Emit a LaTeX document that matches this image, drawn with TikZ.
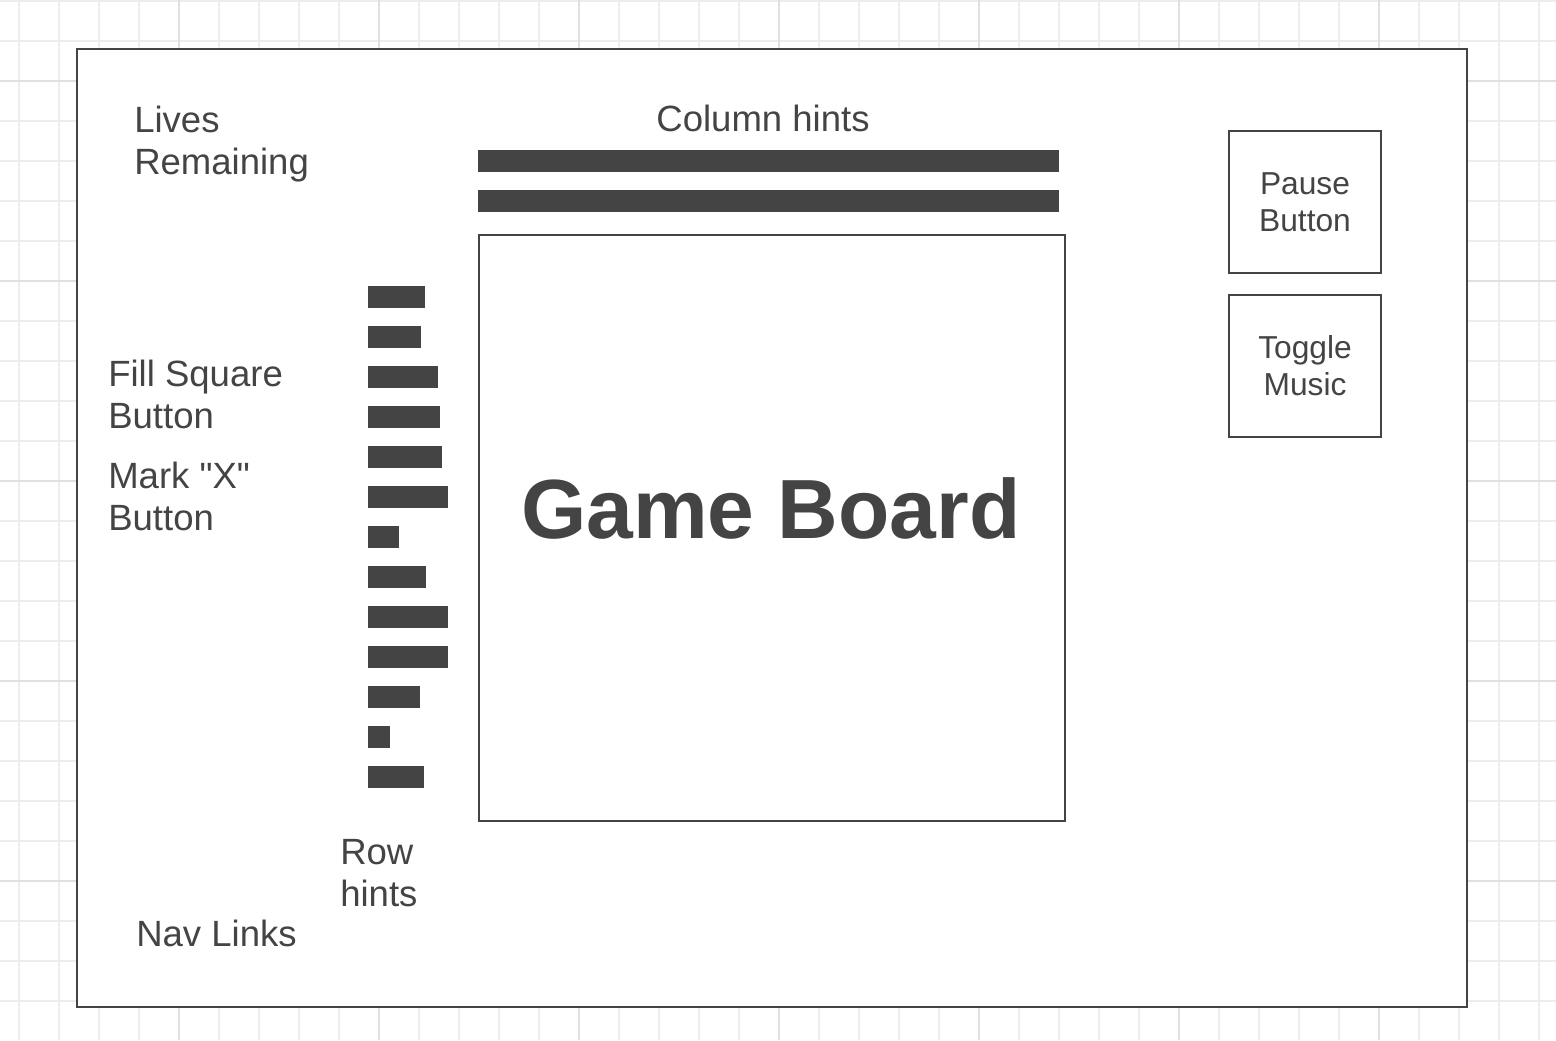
\documentclass[tikz,border=0pt]{standalone}
\usepackage{fontspec}
\setmainfont{Liberation Sans}[Ligatures=TeXOff]
\definecolor{ink}{HTML}{444444}
\definecolor{gridminor}{HTML}{EDEDED}
\definecolor{gridmajor}{HTML}{E0E0E0}
\newcommand{\twoL}[2]{\vtop{\hbox{#1}\hbox{#2}}}
\newcommand{\twoC}[2]{\vtop{\halign{\hfil##\hfil\cr#1\cr#2\cr}}}
\begin{document}
\begin{tikzpicture}[x=0.75pt,y=-0.75pt,
  lbl/.style={text=ink, inner sep=0pt, font=\fontsize{27.4}{31.5}\selectfont, anchor=base west},
  btnlbl/.style={text=ink, inner sep=0pt, font=\fontsize{23.8}{28}\selectfont, anchor=base},
  boxshape/.style={draw=ink, line width=1.5pt, fill=white, inner sep=0pt, outer sep=0pt, anchor=north west},
  hintbar/.style={fill=ink, draw=none, inner sep=0pt, outer sep=0pt, anchor=north west},
  minorline/.style={draw=gridminor, line width=1.1pt},
  majorline/.style={draw=gridmajor, line width=1.1pt}]
\useasboundingbox (0,0) rectangle (1556,1040);
\fill[white] (0,0) rectangle (1556,1040);
% background grid
\foreach \k in {0,...,38} \draw[minorline] (19+40*\k,0) -- (19+40*\k,1040);
\foreach \k in {0,...,25} \draw[minorline] (0,1+40*\k) -- (1556,1+40*\k);
\foreach \xx in {179,379,...,1379} \draw[majorline] (\xx,0) -- (\xx,1040);
\foreach \yy in {81,281,...,881} \draw[majorline] (0,\yy) -- (1556,\yy);
% frame
\node[boxshape, minimum width=1042.5pt, minimum height=718.5pt] (frame) at (77,49) {};
% game board
\node[boxshape, minimum width=439.5pt, minimum height=439.5pt] (board) at (479,235) {};
\node[text=ink, inner sep=0pt, font=\fontsize{63}{75}\selectfont\bfseries, anchor=base] (boardtxt) at (771,538) {Game Board};
% column hints
\node[hintbar, minimum width=435.75pt, minimum height=16.5pt] (c1) at (478,150) {};
\node[hintbar, minimum width=435.75pt, minimum height=16.5pt] (c2) at (478,190) {};
\node[lbl, anchor=base] (coltxt) at (763,131) {Column hints};
% row hints
\foreach \w [count=\i] in {57,53,70,72,74,80,31,58,80,80,52,22,56}
  \node[hintbar, minimum width=0.75pt*\w, minimum height=16.125pt] (r\i) at (368,286+40*\i-40) {};
\node[lbl] (rowtxt) at (340,864) {\twoL{Row}{hints}};
% left labels
\node[lbl] (lives) at (134,132) {\twoL{Lives}{Remaining}};
\node[lbl] (fill) at (108,386) {\twoL{Fill Square}{Button}};
\node[lbl] (mark) at (108,488) {\twoL{Mark "X"}{Button}};
\node[lbl] (nav) at (136,946) {Nav Links};
% right buttons
\node[boxshape, minimum width=114pt, minimum height=106.5pt] (pause) at (1229,131) {};
\node[btnlbl] (pausetxt) at (1305,194.3) {\twoC{Pause}{Button}};
\node[boxshape, minimum width=114pt, minimum height=106.5pt] (toggle) at (1229,295) {};
\node[btnlbl] (toggletxt) at (1305,358.3) {\twoC{Toggle}{Music}};
\end{tikzpicture}
\end{document}
